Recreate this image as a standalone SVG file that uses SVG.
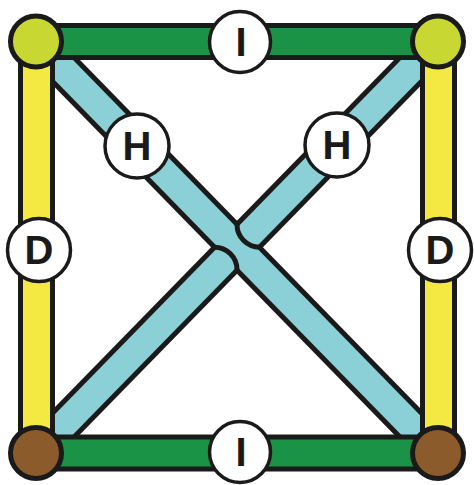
<svg xmlns="http://www.w3.org/2000/svg" width="474" height="485" viewBox="0 0 474 485">
<style>
.edgeO{stroke:#1a1a1a;stroke-width:37;fill:none}
.diag{stroke:#8bd0d6;stroke-width:27;fill:none}
.green{stroke:#1a9347;stroke-width:27;fill:none}
.yellow{stroke:#f4e842;stroke-width:27;fill:none}
.arc{stroke:#1a1a1a;stroke-width:5;fill:none;stroke-linecap:round}
.lime{fill:#c8d732;stroke:#1a1a1a;stroke-width:5}
.brown{fill:#8b5b2b;stroke:#1a1a1a;stroke-width:5}
.lbl circle{fill:#ffffff;stroke:#1a1a1a;stroke-width:3.5}
.lbl text{font-family:"Liberation Sans",Arial,sans-serif;font-weight:bold;font-size:40px;fill:#1a1a1a;text-anchor:middle}
</style>
<g id="connectors">
  <g id="diag-tl-br">
    <line class="edgeO" x1="36" y1="41.5" x2="438" y2="453"/>
  </g>
  <g id="diag-bl-tr">
    <line class="edgeO" x1="36" y1="453" x2="438" y2="41.5"/>
  </g>
  <line class="diag" x1="36" y1="41.5" x2="438" y2="453"/>
  <line class="diag" x1="36" y1="453" x2="438" y2="41.5"/>
  <path class="arc" d="M237 224.6 A22.6 22.6 0 0 0 259.6 247.2"/>
  <path class="arc" d="M214.4 247.2 A22.6 22.6 0 0 1 237 269.8"/>
  <g id="edge-top">
    <line class="edgeO" x1="36" y1="41.5" x2="438" y2="41.5"/>
    <line class="green" x1="36" y1="41.5" x2="438" y2="41.5"/>
  </g>
  <g id="edge-bottom">
    <line class="edgeO" x1="36" y1="453" x2="438" y2="453"/>
    <line class="green" x1="36" y1="453" x2="438" y2="453"/>
  </g>
  <g id="edge-left">
    <line class="edgeO" x1="36.5" y1="41.5" x2="36.5" y2="453"/>
    <line class="yellow" x1="36.5" y1="41.5" x2="36.5" y2="453"/>
  </g>
  <g id="edge-right">
    <line class="edgeO" x1="438.5" y1="41.5" x2="438.5" y2="453"/>
    <line class="yellow" x1="438.5" y1="41.5" x2="438.5" y2="453"/>
  </g>
</g>
<g id="node-tl"><circle class="lime" cx="36" cy="41.5" r="25.5"/></g>
<g id="node-tr"><circle class="lime" cx="438" cy="41.5" r="25.5"/></g>
<g id="node-bl"><circle class="brown" cx="36" cy="453" r="25.5"/></g>
<g id="node-br"><circle class="brown" cx="438" cy="453" r="25.5"/></g>
<g id="label-top" class="lbl"><circle cx="240" cy="42" r="30.5"/><text x="241" y="56">I</text></g>
<g id="label-bottom" class="lbl"><circle cx="240" cy="452" r="30.5"/><text x="241" y="466">I</text></g>
<g id="label-left" class="lbl"><circle cx="39" cy="250" r="31.5"/><text x="39" y="264">D</text></g>
<g id="label-right" class="lbl"><circle cx="440" cy="250" r="31.5"/><text x="440" y="264">D</text></g>
<g id="label-h-left" class="lbl"><circle cx="137" cy="146" r="32"/><text x="137" y="160">H</text></g>
<g id="label-h-right" class="lbl"><circle cx="337" cy="145" r="32"/><text x="337" y="159">H</text></g>
</svg>
